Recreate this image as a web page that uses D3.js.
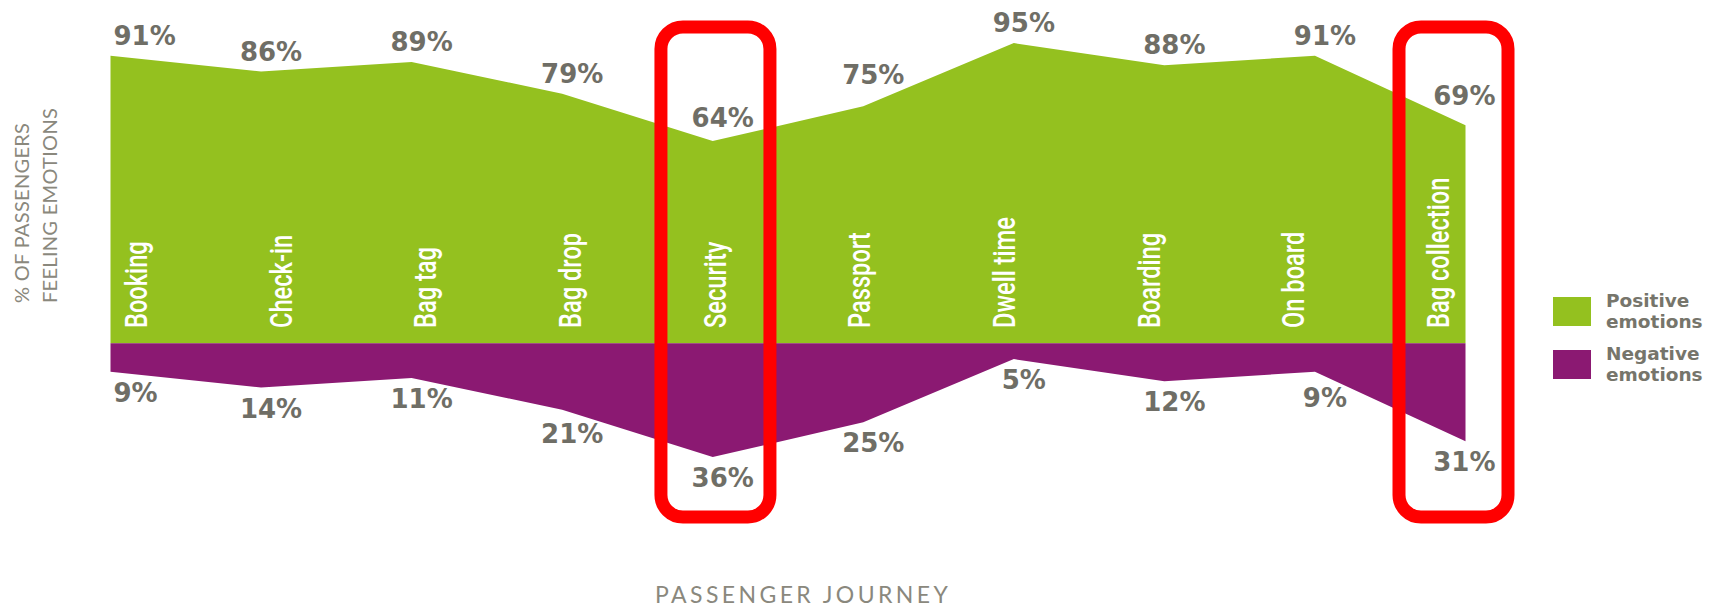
<!DOCTYPE html>
<html>
<head>
<meta charset="utf-8">
<script src="https://cdn.jsdelivr.net/npm/d3@7/dist/d3.min.js"></script>
<style>
  html, body { margin: 0; padding: 0; background: #fff; }
  svg { display: block; }
</style>
</head>
<body>
<div id="chart"></div>
<script>
// Data
const categories = ['Booking', 'Check-in', 'Bag tag', 'Bag drop', 'Security', 'Passport', 'Dwell time', 'Boarding', 'On board', 'Bag collection'];
const positiveValues = [91, 86, 89, 79, 64, 75, 95, 88, 91, 69];
const negativeValues = [9, 14, 11, 21, 36, 25, 5, 12, 9, 31];
const highlighted = ['Security', 'Bag collection'];
const seriesNames = ['Positive emotions', 'Negative emotions'];
const yTitleLines = ['% OF PASSENGERS', 'FEELING EMOTIONS'];
const xTitle = 'PASSENGER JOURNEY';

const width = 1717;
const height = 607;
const baseline = 343.3;
const pxPerPct = 3.16;

const GREEN = '#94c11f';
const PURPLE = '#8b1972';
const LABEL_GREY = '#6f6e66';
const TITLE_GREY = '#8a887d';

const rows = categories.map((c, i) => ({ cat: c, pos: positiveValues[i], neg: negativeValues[i] }));

const svg = d3.select('#chart')
  .append('svg')
  .attr('width', width)
  .attr('height', height)
  .attr('viewBox', `0 0 ${width} ${height}`);

// Scales
const x = d3.scalePoint().domain(categories).range([110.5, 1465.5]);
const y = d3.scaleLinear().domain([-100, 100]).range([baseline + 100 * pxPerPct, baseline - 100 * pxPerPct]);
const x0 = x(categories[0]);
const x1 = x(categories[categories.length - 1]);
// category names sit on their own evenly spaced positions, slightly inset
const labelX = d3.scalePoint().domain(categories).range([x0 + 25, x1 - 28]);

// Areas
const posArea = d3.area()
  .x(d => x(d.cat))
  .y0(y(0))
  .y1(d => y(d.pos));

const negArea = d3.area()
  .x(d => x(d.cat))
  .y0(y(0))
  .y1(d => y(-d.neg));

svg.append('path')
  .datum(rows)
  .attr('fill', GREEN)
  .attr('d', posArea);

svg.append('path')
  .datum(rows)
  .attr('fill', PURPLE)
  .attr('d', negArea);

// value of a series edge at a pixel position (linear between points)
const xs = rows.map(d => x(d.cat));
function valueAt(px, key) {
  if (px <= xs[0]) return rows[0][key];
  if (px >= xs[xs.length - 1]) return rows[rows.length - 1][key];
  const i = d3.bisectRight(xs, px) - 1;
  const t = (px - xs[i]) / (xs[i + 1] - xs[i]);
  return rows[i][key] * (1 - t) + rows[i + 1][key] * t;
}
function spanMax(a, b, key) {
  const lo = Math.max(a, x0);
  const hi = Math.min(b, x1);
  let m = Math.max(valueAt(lo, key), valueAt(hi, key));
  rows.forEach((d, i) => {
    if (xs[i] >= lo && xs[i] <= hi) m = Math.max(m, d[key]);
  });
  return m;
}

// Category names, rotated, white
svg.append('g')
  .selectAll('text')
  .data(rows)
  .join('text')
  .attr('transform', d => `translate(${labelX(d.cat)},328) rotate(-90) scale(0.74,1)`)
  .attr('dy', '0.36em')
  .attr('fill', '#ffffff')
  .style('font-family', 'Roboto, sans-serif')
  .style('font-weight', '500')
  .style('font-size', '32px')
  .text(d => d.cat);

// Percentage labels
function placeLabels(key, sign) {
  const g = svg.append('g');
  rows.forEach(d => {
    const v = d[key];
    const t = g.append('text')
      .attr('text-anchor', 'middle')
      .attr('fill', LABEL_GREY)
      .style('font-family', '"DejaVu Sans", sans-serif')
      .style('font-weight', 'bold')
      .style('font-size', '26px')
      .text(v + '%');
    const w = t.node().getComputedTextLength();
    let cx = x(d.cat) + 10;
    cx = Math.max(cx, x0 + w / 2 + 3);
    cx = Math.min(cx, x1 + 30 - w / 2);
    const edge = spanMax(cx - w / 2, cx + w / 2, key);
    const by = sign > 0
      ? Math.min(y(v) - 11, y(edge) - 5)
      : Math.max(y(-v) + 30, y(-edge) + 20);
    t.attr('x', cx).attr('y', by);
  });
}
placeLabels('pos', 1);
placeLabels('neg', -1);

// Highlight boxes, centred between the data point and its category name
svg.append('g')
  .selectAll('rect')
  .data(highlighted)
  .join('rect')
  .attr('x', d => (x(d) + labelX(d)) / 2 + 2 - 54.5)
  .attr('y', 27)
  .attr('width', 109)
  .attr('height', 490)
  .attr('rx', 22)
  .attr('fill', 'none')
  .attr('stroke', '#ff0000')
  .attr('stroke-width', 13);

// Axis titles
svg.append('g')
  .selectAll('text')
  .data(yTitleLines)
  .join('text')
  .attr('transform', (d, i) => `translate(${29 + i * 28},303) rotate(-90)`)
  .attr('fill', TITLE_GREY)
  .style('font-family', 'Lato, sans-serif')
  .style('font-weight', '400')
  .style('font-size', '20px')
  .style('letter-spacing', '0.3px')
  .text(d => d);

svg.append('text')
  .attr('x', 655)
  .attr('y', 603)
  .attr('fill', TITLE_GREY)
  .style('font-family', 'Lato, sans-serif')
  .style('font-weight', '400')
  .style('font-size', '23px')
  .style('letter-spacing', '3.4px')
  .text(xTitle);

// Legend
const legend = svg.append('g').attr('transform', 'translate(1553,297)');
const legendItems = legend.selectAll('g')
  .data(seriesNames)
  .join('g')
  .attr('transform', (d, i) => `translate(0,${i * 53})`);

legendItems.append('rect')
  .attr('width', 38)
  .attr('height', 29)
  .attr('fill', (d, i) => i === 0 ? GREEN : PURPLE);

legendItems.append('text')
  .attr('fill', '#76756b')
  .style('font-family', '"DejaVu Sans", sans-serif')
  .style('font-weight', 'bold')
  .style('font-size', '18.5px')
  .selectAll('tspan')
  .data(d => d.split(' '))
  .join('tspan')
  .attr('x', 53)
  .attr('y', (d, i) => 10 + i * 21)
  .text(d => d);
</script>
</body>
</html>
